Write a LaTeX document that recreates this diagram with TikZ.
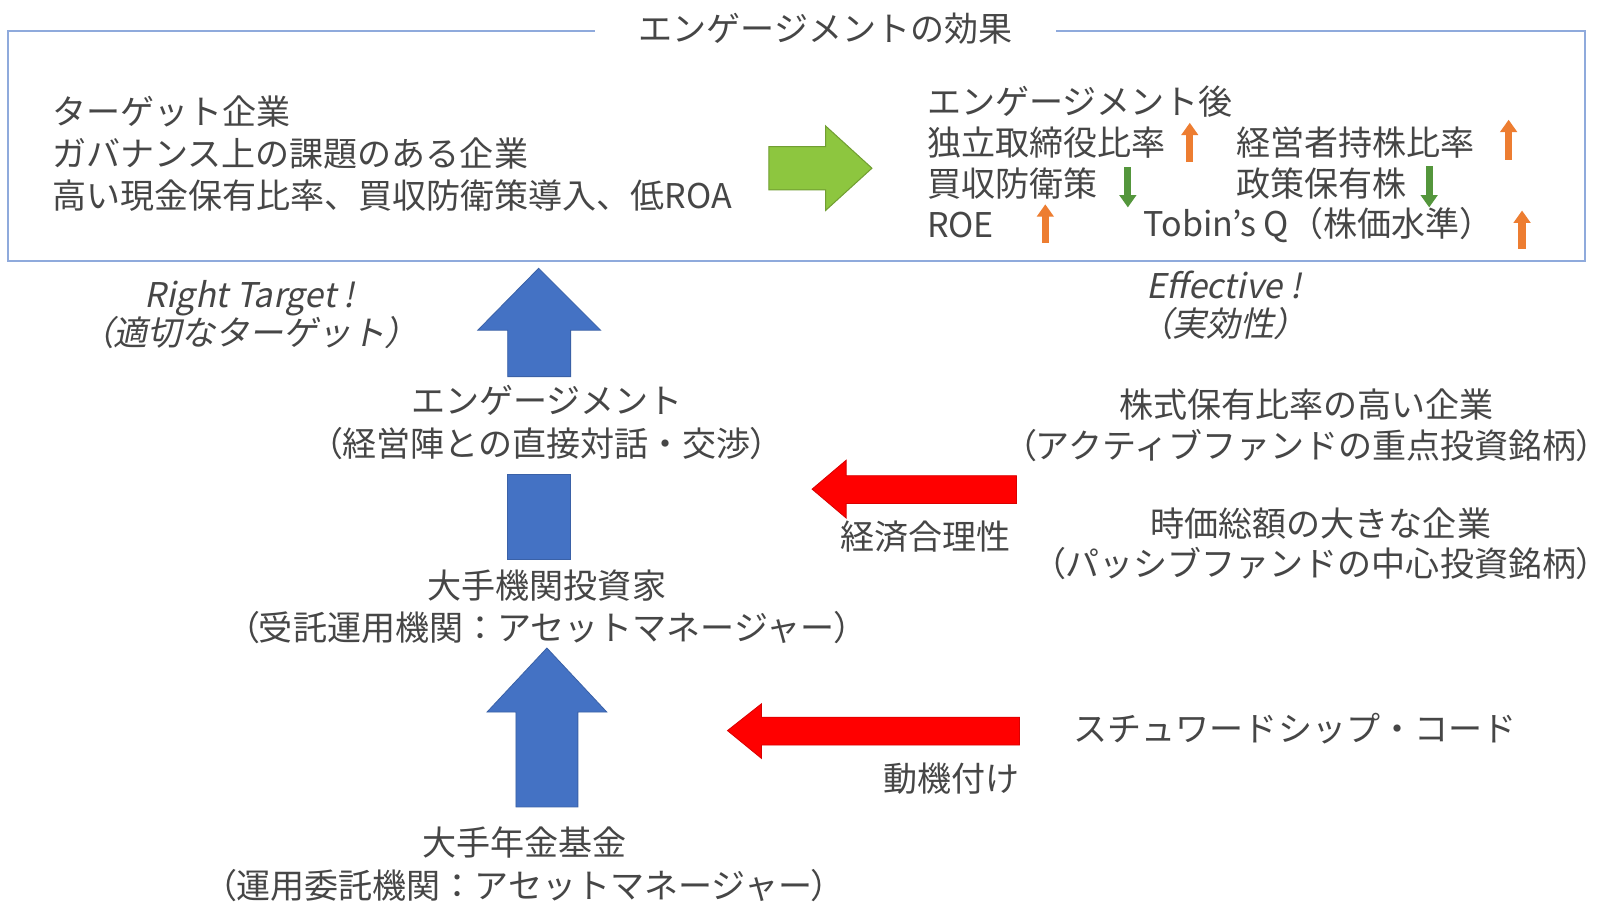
\documentclass[tikz,border=0pt]{standalone}
\usepackage{fontspec}
\setmainfont{Noto Sans CJK JP}
\newfontfamily\jpit{Noto Sans CJK JP}[FakeSlant=0.2]
\newcommand{\jlp}{{\addfontfeatures{RawFeature=+palt}（}}
\newcommand{\jrp}{{\addfontfeatures{RawFeature=+palt}）}}
\usetikzlibrary{arrows.meta}
\definecolor{txt}{RGB}{70,70,70}
\definecolor{boxline}{RGB}{143,170,220}
\definecolor{bblue}{RGB}{68,114,196}
\definecolor{bred}{RGB}{255,0,0}
\definecolor{bgreen}{RGB}{141,198,63}
\definecolor{sorange}{RGB}{237,125,49}
\definecolor{sgreen}{RGB}{84,150,60}
\tikzset{
  lbl/.style={text=txt, font=\fontsize{16.5}{20.5}\selectfont, inner sep=0pt, align=center},
  itlbl/.style={lbl, font=\jpit\fontsize{16.5}{18.5}\selectfont},
  smallup/.style={draw=sorange, line width=3.5pt, -{Triangle[length=6pt,width=8pt]}},
  smalldown/.style={draw=sgreen, line width=3.5pt, -{Triangle[length=6pt,width=8pt]}},
  bluearrow/.style={fill=bblue, draw=bblue!85!black, line width=0.4pt},
  redarrow/.style={fill=bred, draw=bred!85!black, line width=0.4pt},
  greenarrow/.style={fill=bgreen, draw=bgreen!80!black, line width=0.5pt},
}
\begin{document}
\begin{tikzpicture}[x=0.5pt,y=-0.5pt]
\useasboundingbox[fill=white] (0,0) rectangle (1568,874);

% frame
\draw[boxline, line width=0.8pt] (8,30) rectangle (1536,253);
\node[lbl, fill=white, inner xsep=21pt, inner ysep=2pt] (title) at (800,28) {エンゲージメントの効果};

% left block in frame
\node[lbl, align=left, anchor=west] (target) at (50,149)
  {ターゲット企業\\ガバナンス上の課題のある企業\\高い現金保有比率、買収防衛策導入、低ROA};

% green arrow
\path[greenarrow] (745,142) -- (800,142) -- (800,122) -- (845,163) -- (800,204) -- (800,184) -- (745,184) -- cycle;

% right block in frame
\node[lbl, anchor=west] (after) at (898,98) {エンゲージメント後};
\node[lbl, anchor=west] (r1a) at (898,138) {独立取締役比率};
\node[lbl, anchor=west] (r1b) at (1198,138) {経営者持株比率};
\node[lbl, anchor=west] (r2a) at (898,178) {買収防衛策};
\node[lbl, anchor=west] (r2b) at (1198,178) {政策保有株};
\node[lbl, anchor=west] (r3a) at (898,218) {ROE};
\node[lbl, anchor=west] (r3b) at (1108,218) {Tobin’s Q（株価水準）};

\coordinate (u1s) at (1153,157); \coordinate (u1e) at (1153,119);
\coordinate (u2s) at (1462,155); \coordinate (u2e) at (1462,116);
\coordinate (d1s) at (1093,162); \coordinate (d1e) at (1093,201);
\coordinate (d2s) at (1385,161); \coordinate (d2e) at (1385,201);
\coordinate (u3s) at (1013,235); \coordinate (u3e) at (1013,198);
\coordinate (u4s) at (1475,241); \coordinate (u4e) at (1475,204);
\draw[smallup] (u1s) -- (u1e);
\draw[smallup] (u2s) -- (u2e);
\draw[smalldown] (d1s) -- (d1e);
\draw[smalldown] (d2s) -- (d2e);
\draw[smallup] (u3s) -- (u3e);
\draw[smallup] (u4s) -- (u4e);

% italic labels
\node[itlbl] (righttarget) at (242,305) {Right Target !\\\jlp 適切なターゲット\jrp};
\node[itlbl] (effective) at (1186,296) {Effective !\\\jlp 実効性\jrp};

% centre column
\node[lbl] (eng) at (530,409.5) {エンゲージメント\\\jlp 経営陣との直接対話・交渉\jrp};
\node[lbl] (inst) at (530,588) {大手機関投資家\\\jlp 受託運用機関：アセットマネージャー\jrp};
\node[lbl] (pension) at (508,837.5) {大手年金基金\\\jlp 運用委託機関：アセットマネージャー\jrp};

% blue arrows
\path[bluearrow] (522,260) -- (582,320) -- (553,320) -- (553,365) -- (492,365) -- (492,320) -- (463,320) -- cycle;
\path[bluearrow] (492,460) rectangle (553,542);
\path[bluearrow] (530,628) -- (588,690) -- (560,690) -- (560,782) -- (500,782) -- (500,690) -- (472,690) -- cycle;

% right column
\node[lbl, font=\fontsize{16.5}{20}\selectfont] (active) at (1266,412) {株式保有比率の高い企業\\\jlp アクティブファンドの重点投資銘柄\jrp};
\node[lbl, font=\fontsize{16.5}{19}\selectfont] (passive) at (1280,527) {時価総額の大きな企業\\\jlp パッシブファンドの中心投資銘柄\jrp};
\node[lbl] (steward) at (1255,706) {スチュワードシップ・コード};

% red arrows
\path[redarrow] (787,474) -- (820,446) -- (820,461) -- (985,461) -- (985,488) -- (820,488) -- (820,502) -- cycle;
\node[lbl] (econ) at (897,520) {経済合理性};
\path[redarrow] (705,708) -- (738,682) -- (738,695) -- (988,695) -- (988,722) -- (738,722) -- (738,735) -- cycle;
\node[lbl] (motive) at (922,755) {動機付け};
\end{tikzpicture}
\end{document}
